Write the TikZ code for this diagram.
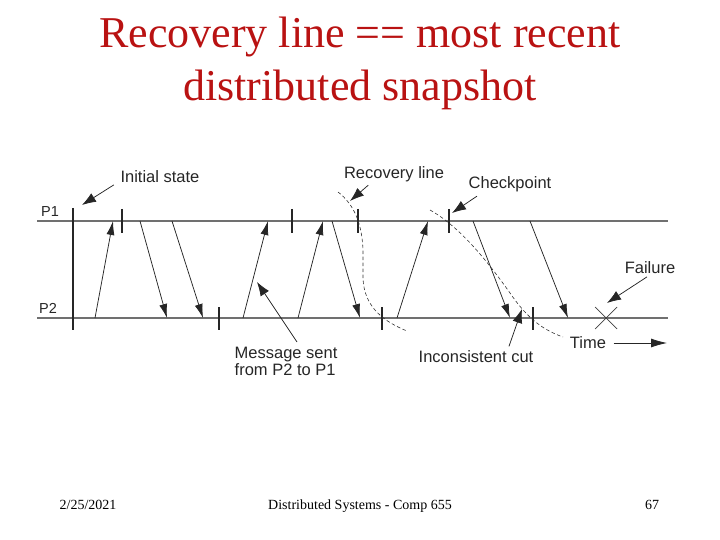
\documentclass[tikz,border=0pt]{standalone}
\usepackage{fontspec}
\setmainfont{Liberation Serif}
\setsansfont{Liberation Sans}
\usetikzlibrary{arrows.meta,positioning,calc}
\definecolor{titlered}{RGB}{185,18,18}
\definecolor{linegray}{RGB}{112,112,112}

\begin{document}
\begin{tikzpicture}[
		x=1pt, y=-1pt,
		>={Latex[length=14pt,width=8pt]},
		proc/.style={linegray, line width=1.6pt},
		ckpt/.style={black!85, line width=2.6pt},
		msg/.style={->, black!85, line width=0.75pt},
		note/.style={-{Latex[length=14pt,width=10pt]}, black!85, line width=0.75pt},
		cut/.style={black!80, line width=0.6pt, dash pattern=on 3.5pt off 2.5pt},
		lbl/.style={font=\sffamily\fontsize{16.5}{17}\selectfont, inner sep=1.5pt, text=black!85},
		foot/.style={font=\fontsize{14}{16}\selectfont}
		]
		\useasboundingbox (0,0) rectangle (720,540);
		
		% Title
		\node[anchor=base, font=\fontsize{44}{53}\selectfont, text=titlered] (title1) at (360,48) {Recovery line == most recent};
		\node[anchor=base, font=\fontsize{44}{53}\selectfont, text=titlered] (title2) at (360,101) {distributed snapshot};
		
		% -------------------------
		% Processes
		% -------------------------
		\coordinate (p1a) at (37,221);
		\coordinate (p1b) at (668,221);
		\coordinate (p2a) at (37,318);
		\coordinate (p2b) at (668,318);
		\draw[proc] (p1a) -- (p1b);
		\draw[proc] (p2a) -- (p2b);
		\node[lbl, anchor=base, font=\sffamily\fontsize{14.5}{16}\selectfont] (P1) at (50,216) {P1};
		\node[lbl, anchor=base, font=\sffamily\fontsize{14.5}{16}\selectfont] (P2) at (48,313) {P2};
		
		% initial state
		\coordinate (inittop) at (73,208);
		\coordinate (initbot) at (73,330);
		\draw[ckpt, line width=2.8pt] (inittop) -- (initbot);
		
		% checkpoints
		\foreach \x [count=\i] in {122,292,358,449}
		\draw[ckpt] (\x,209) coordinate (ca\i) -- (\x,233);
		\foreach \x [count=\i] in {219,382,533}
		\draw[ckpt] (\x,307) coordinate (cb\i) -- (\x,330);
		
		% -------------------------
		% Messages
		% -------------------------
		\foreach \a/\b [count=\i] in {95/113, 243/268, 298/323, 397/428}{
			\coordinate (us\i) at (\a,318);
			\coordinate (ur\i) at (\b,221);
			\draw[msg] (us\i) -- (ur\i);
		}
		\foreach \a/\b [count=\i] in {140/167, 172/203, 332/360, 473/510, 530/568}{
			\coordinate (ds\i) at (\a,221);
			\coordinate (dr\i) at (\b,318);
			\draw[msg] (ds\i) -- (dr\i);
		}
		
		% failure
		\coordinate (failpt) at (606,318);
		\draw[black!75, line width=0.7pt] ($(failpt)+(-11,-11)$) -- ($(failpt)+(11,11)$);
		\draw[black!75, line width=0.7pt] ($(failpt)+(11,-11)$) -- ($(failpt)+(-11,11)$);
		
		% -------------------------
		% Cuts
		% -------------------------
		\draw[cut] (338,192) .. controls (355,205) and (362,225) .. (363,250)
		-- (363,278) .. controls (364,308) and (385,322) .. (407,331);
		\draw[cut] (430,210) .. controls (462,228) and (490,265) .. (510,293)
		.. controls (525,315) and (540,329) .. (563,337);
		
		% -------------------------
		% Labels
		% -------------------------
		\node[lbl, anchor=base] (init) at (160,183) {Initial state};
		\node[lbl, anchor=base] (recov) at (394,179) {Recovery line};
		\node[lbl, anchor=base] (chk) at (510,189) {Checkpoint};
		\node[lbl, anchor=base] (fail) at (650,273) {Failure};
		\node[lbl, anchor=base] (time) at (588,348) {Time};
		\node[lbl, anchor=base] (incons) at (476,362) {Inconsistent cut};
		\node[lbl, anchor=north west, align=left] (msgtxt) at (233,345) {Message sent\\from P2 to P1};
		
		% -------------------------
		% Arrows
		% -------------------------
		\coordinate (initpt) at (82,205);
		\coordinate (recovpt) at (350,201);
		\coordinate (chkpt) at (452,213);
		\coordinate (failtip) at (607,303);
		\coordinate (cutpt) at (522,309);
		\coordinate (msgpt) at (257,282);
		\coordinate (timeend) at (667,343);
		
		\draw[note] ([xshift=-5pt]init.south west) -- (initpt);
		\draw[note] ([xshift=26pt, yshift=-1pt]recov.south west) -- (recovpt);
		\draw[note] ([xshift=10pt, yshift=-2pt]chk.south west) -- (chkpt);
		\draw[note] ([xshift=-3pt, yshift=-2pt]fail.south) -- (failtip);
		\draw[note] ([xshift=92pt, yshift=2pt]incons.north west) -- (cutpt);
		\draw[note] ([xshift=64pt, yshift=3pt]msgtxt.north west) -- (msgpt);
		\draw[note, -{Latex[length=16pt,width=9pt]}] ([xshift=6pt, yshift=5pt]time.base east) -- (timeend);
		
		% Footer
		\node[foot, anchor=base] (date) at (88,509) {2/25/2021};
		\node[foot, anchor=base] (course) at (360,509) {Distributed Systems - Comp 655};
		\node[foot, anchor=base] (page) at (652,509) {67};
		
	\end{tikzpicture}
\end{document}
